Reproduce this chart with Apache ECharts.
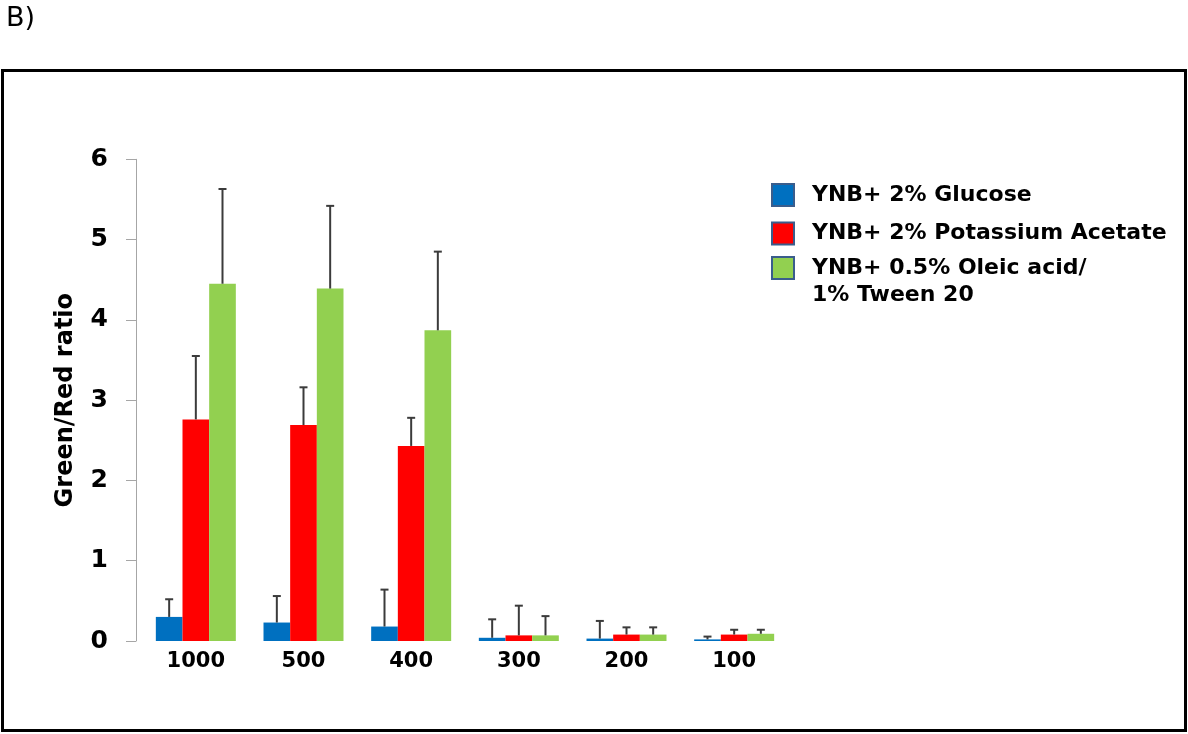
<!DOCTYPE html>
<html>
<head>
<meta charset="utf-8">
<script src="https://cdn.jsdelivr.net/npm/echarts@6/dist/echarts.min.js"></script>
<style>
  html, body { margin: 0; padding: 0; background: #fff; }
  #chart { width: 1188px; height: 734px; }
</style>
</head>
<body>
<div id="chart"></div>
<script>
// Cell-count categories along the x axis
const categories = ['1000', '500', '400', '300', '200', '100'];

// Series names
const nameGlucose = 'YNB+ 2% Glucose';
const nameAcetate = 'YNB+ 2% Potassium Acetate';
const nameOleic = 'YNB+ 0.5% Oleic acid/ 1% Tween 20';

// Mean Green/Red ratio per category
const glucose = [0.30, 0.23, 0.18, 0.04, 0.03, 0.02];
const acetate = [2.76, 2.69, 2.43, 0.07, 0.08, 0.08];
const oleic   = [4.45, 4.39, 3.87, 0.07, 0.08, 0.09];

// Upper error (standard deviation) per category
const glucoseErr = [0.22, 0.33, 0.46, 0.23, 0.22, 0.035];
const acetateErr = [0.79, 0.47, 0.35, 0.37, 0.09, 0.06];
const oleicErr   = [1.18, 1.03, 0.98, 0.24, 0.09, 0.05];

// Y axis ticks
const yTicks = [0, 1, 2, 3, 4, 5, 6];

const FONT = "'DejaVu Sans', 'Liberation Sans', Arial, sans-serif";
const BAR_GAP_RATIO = 0.257;   // share of each category left empty
const BARS_PER_GROUP = 3;

function errorBars(values, errs, slot) {
  return {
    type: 'custom',
    silent: true,
    z: 10,
    encode: { x: 0, y: 1 },
    data: values.map((v, i) => [i, v, errs[i]]),
    renderItem(params, api) {
      const cat = api.value(0);
      const v = api.value(1);
      const e = api.value(2);
      const base = api.coord([cat, v]);
      const top = api.coord([cat, v + e]);
      const band = api.size([1, 0])[0];
      const bw = band * (1 - BAR_GAP_RATIO) / BARS_PER_GROUP;
      const x = base[0] + (slot - 1) * bw;
      const style = { stroke: '#3b3b3b', lineWidth: 2 };
      return {
        type: 'group',
        children: [
          { type: 'line', shape: { x1: x, y1: base[1], x2: x, y2: top[1] }, style },
          { type: 'line', shape: { x1: x - 4, y1: top[1], x2: x + 4, y2: top[1] }, style }
        ]
      };
    }
  };
}

const chart = echarts.init(document.getElementById('chart'));

const legendText = {
  color: '#000',
  fontFamily: FONT,
  fontWeight: 'bold',
  fontSize: 22,
  padding: [0, 0, 0, 13]
};
const legendIconStyle = { borderColor: '#3a5d8c', borderWidth: 2 };

chart.setOption({
  backgroundColor: '#fff',
  animation: false,
  textStyle: { fontFamily: FONT },
  graphic: [
    {
      type: 'rect',
      shape: { x: 2.5, y: 70.5, width: 1183, height: 660 },
      style: { fill: 'none', stroke: '#000', lineWidth: 3 },
      silent: true
    },
    {
      type: 'text',
      left: 6,
      top: 5,
      style: { text: 'B)', font: "27px " + FONT, fill: '#000' },
      silent: true
    }
  ],
  legend: [
    {
      orient: 'vertical',
      left: 771,
      top: 183,
      padding: 0,
      itemGap: 14.5,
      itemWidth: 22,
      itemHeight: 22,
      icon: 'rect',
      itemStyle: legendIconStyle,
      selectedMode: false,
      data: [nameGlucose, nameAcetate],
      textStyle: Object.assign({}, legendText, { lineHeight: 22 })
    },
    {
      orient: 'vertical',
      left: 771,
      top: 227.5,
      padding: 0,
      itemWidth: 22,
      itemHeight: 22,
      icon: 'rect',
      itemStyle: legendIconStyle,
      selectedMode: false,
      data: [nameOleic],
      // first line sits level with the swatch, second line hangs below it
      formatter: (n) => '\n' + n.replace('/ ', '/\n'),
      textStyle: Object.assign({}, legendText, { lineHeight: 27 })
    }
  ],
  grid: {
    left: 142,
    top: 159.3,
    width: 646,
    bottom: 93,
    containLabel: false
  },
  xAxis: {
    type: 'category',
    data: categories,
    axisLine: { show: false },
    axisTick: { show: false },
    axisLabel: {
      color: '#000',
      fontFamily: FONT,
      fontWeight: 'bold',
      fontSize: 21,
      margin: 10
    }
  },
  yAxis: {
    type: 'value',
    min: yTicks[0],
    max: yTicks[yTicks.length - 1],
    interval: 1,
    offset: 6,
    name: 'Green/Red ratio',
    nameLocation: 'middle',
    nameRotate: 90,
    nameGap: 58,
    nameTextStyle: {
      color: '#000',
      fontFamily: FONT,
      fontWeight: 'bold',
      fontSize: 24
    },
    splitLine: { show: false },
    axisLine: { show: true, lineStyle: { color: '#a6a6a6', width: 1 } },
    axisTick: { show: true, length: 10, lineStyle: { color: '#a6a6a6', width: 1 } },
    axisLabel: {
      color: '#000',
      fontFamily: FONT,
      fontWeight: 'bold',
      fontSize: 25,
      margin: 28
    }
  },
  series: [
    {
      name: nameGlucose,
      type: 'bar',
      data: glucose,
      barGap: '0%',
      barCategoryGap: (BAR_GAP_RATIO * 100) + '%',
      itemStyle: { color: '#0070c0' }
    },
    {
      name: nameAcetate,
      type: 'bar',
      data: acetate,
      barGap: '0%',
      barCategoryGap: (BAR_GAP_RATIO * 100) + '%',
      itemStyle: { color: '#ff0000' }
    },
    {
      name: nameOleic,
      type: 'bar',
      data: oleic,
      barGap: '0%',
      barCategoryGap: (BAR_GAP_RATIO * 100) + '%',
      itemStyle: { color: '#92d050' }
    },
    errorBars(glucose, glucoseErr, 0),
    errorBars(acetate, acetateErr, 1),
    errorBars(oleic, oleicErr, 2)
  ]
});
</script>
</body>
</html>
